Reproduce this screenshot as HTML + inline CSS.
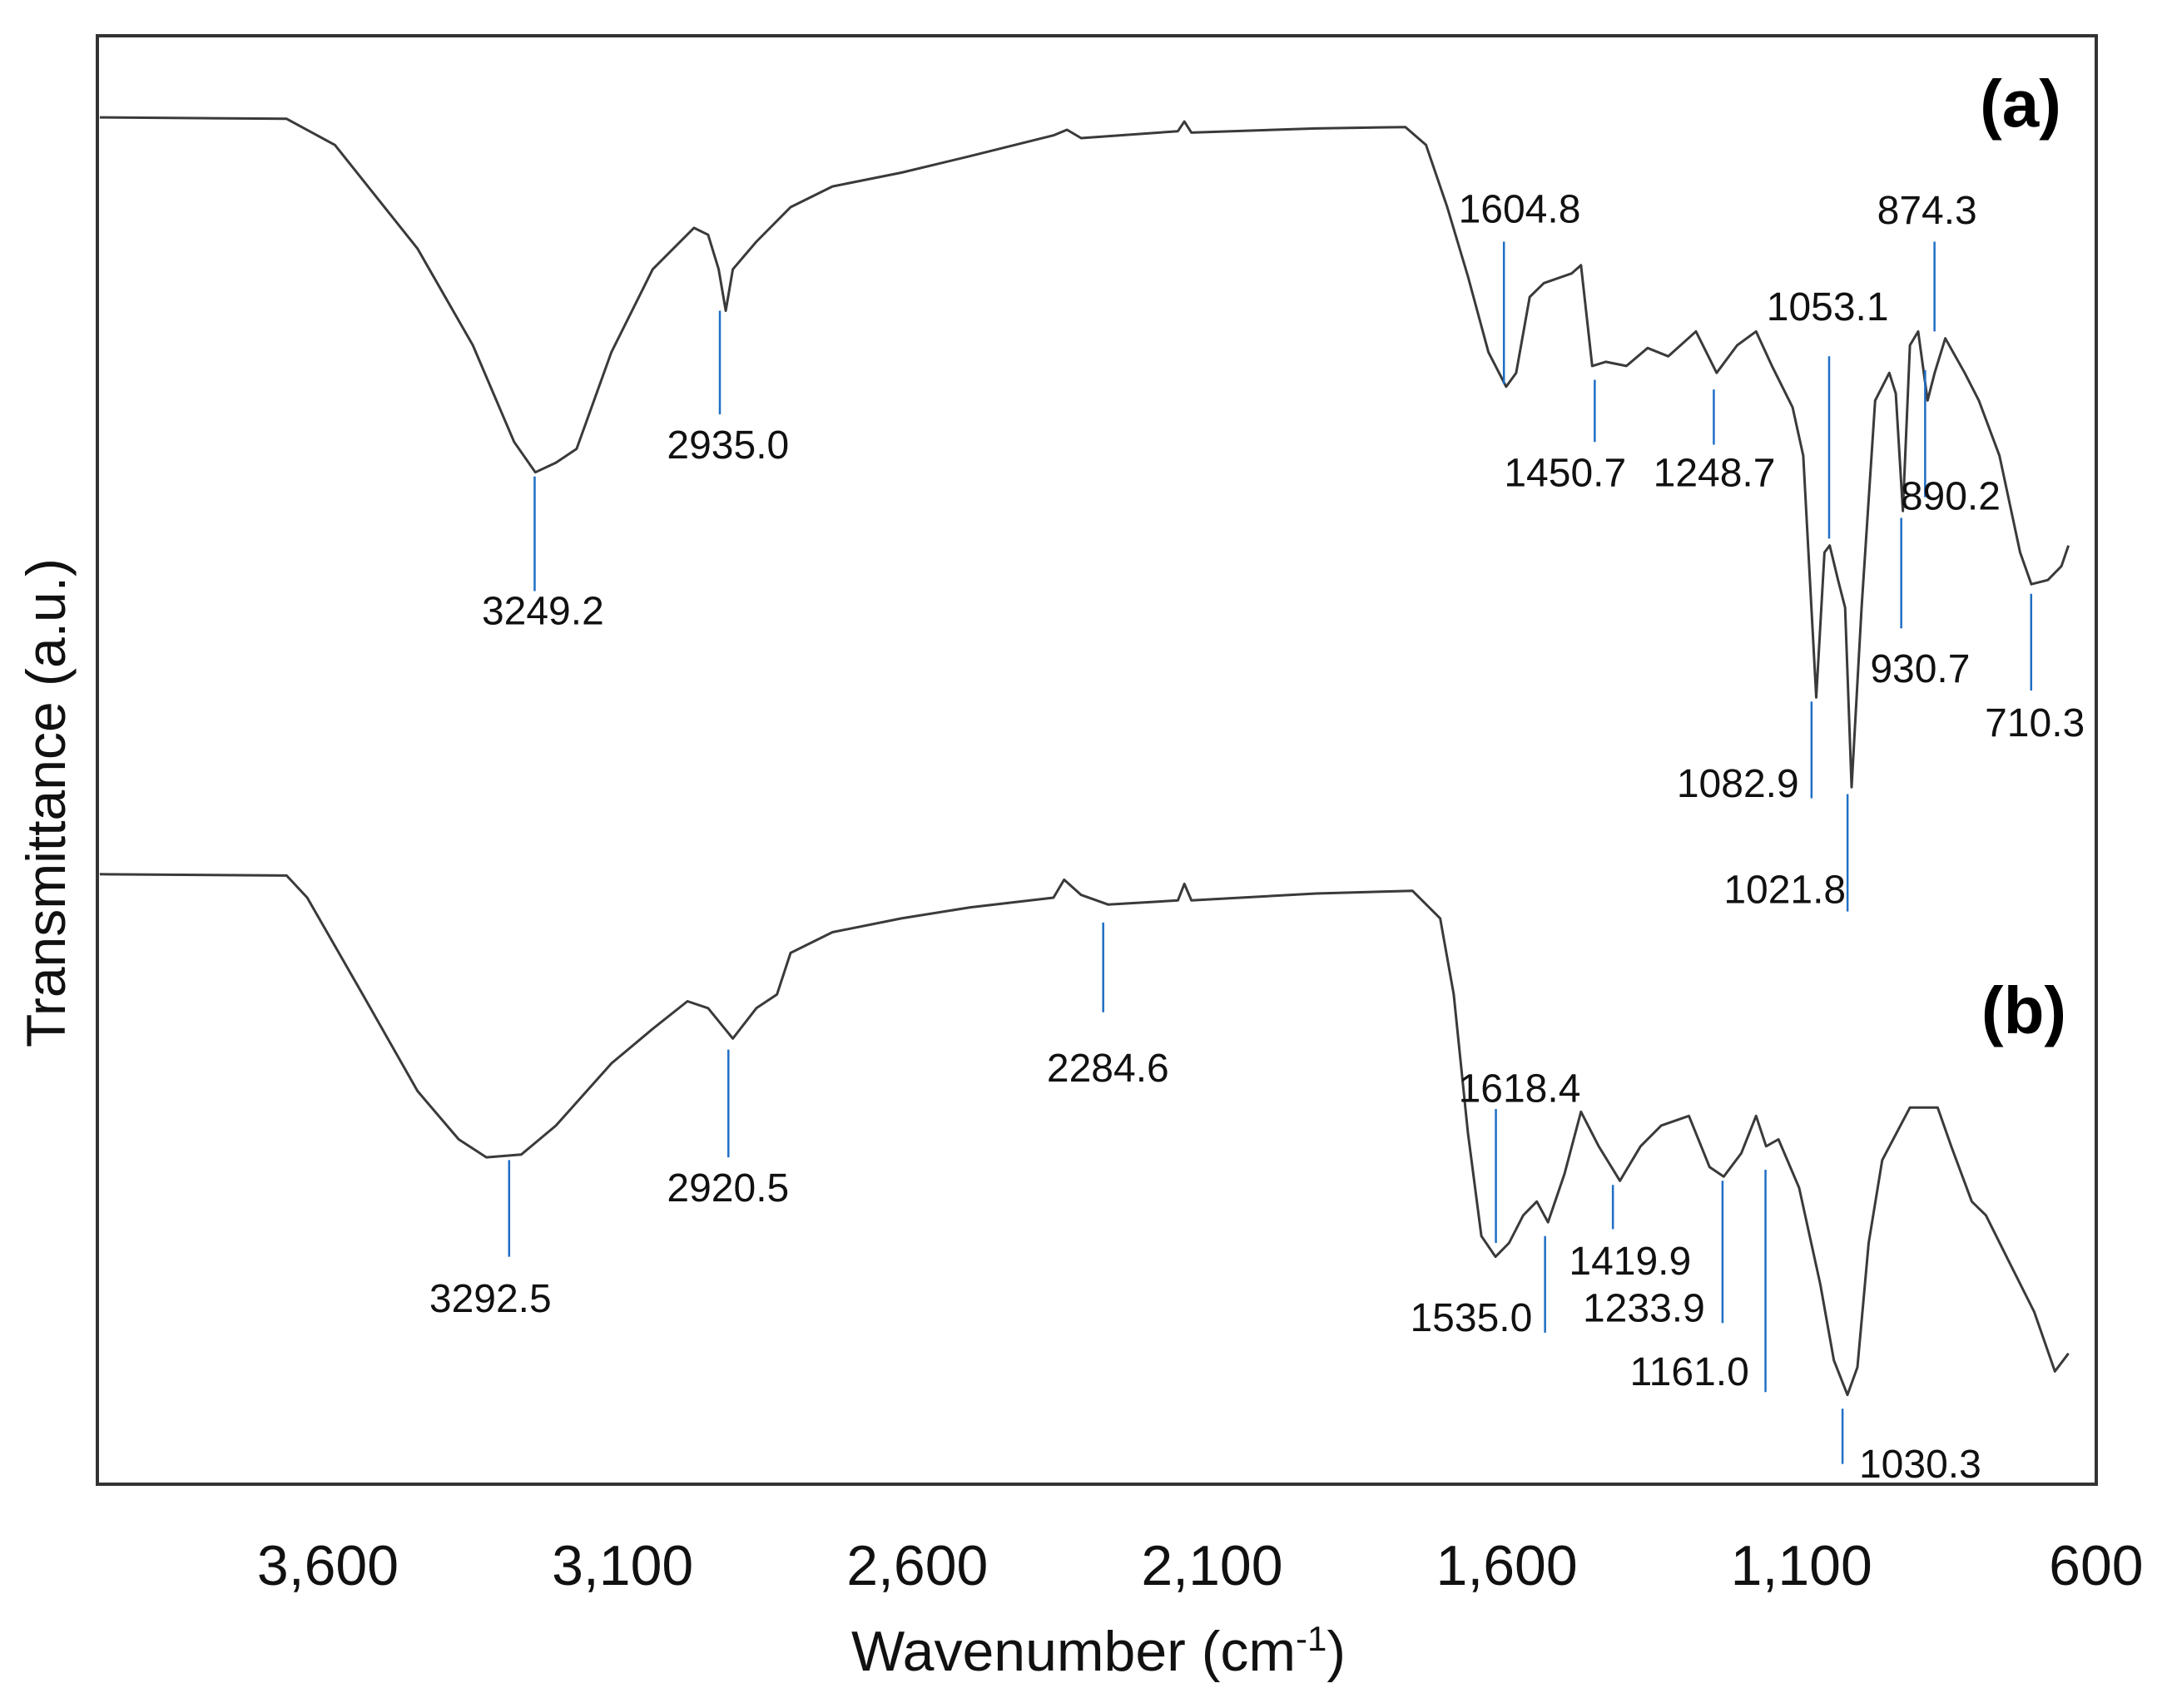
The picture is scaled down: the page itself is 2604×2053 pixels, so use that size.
<!DOCTYPE html>
<html><head><meta charset="utf-8"><style>
html,body{margin:0;padding:0;background:#fff;}
svg{display:block;}
text{font-family:"Liberation Sans",sans-serif;}
</style></head><body>
<svg id="chart" width="2604" height="2053" viewBox="0 0 2604 2053" xmlns="http://www.w3.org/2000/svg">
<rect x="117" y="43" width="2402" height="1741" fill="none" stroke="#333" stroke-width="4"/>
<g id="series"></g>
<g id="annots"></g>
<g id="ticks"></g>
<text x="1320" y="2008" font-size="68" text-anchor="middle" fill="#111">Wavenumber (cm<tspan font-size="42" dy="-24">-1</tspan><tspan dy="24">)</tspan></text>
<text transform="translate(78,965) rotate(-90)" font-size="66" text-anchor="middle" fill="#111">Transmittance (a.u.)</text>
<text x="2428" y="152" font-size="80" font-weight="bold" text-anchor="middle" fill="#000">(a)</text>
<text x="2432" y="1242" font-size="80" font-weight="bold" text-anchor="middle" fill="#000">(b)</text>
</svg>
<script>
const xTicks=[3600,3100,2600,2100,1600,1100,600];
const xTickLabels=["3,600","3,100","2,600","2,100","1,600","1,100","600"];
const wnA=[3987,3670,3588,3448,3354,3284,3248,3213,3178,3119,3049,2979,2955,2937,2925,2913,2873,2815,2744,2627,2510,2369,2346,2322,2158,2147,2135,1924,1772,1737,1701,1666,1631,1601,1584,1561,1537,1490,1474,1455,1432,1397,1361,1326,1279,1244,1209,1177,1150,1115,1097,1075,1061,1052,1038,1026,1015,998,975,951,940,928,916,902,886,874,856,823,799,764,729,710,682,659,647];
const tA=[990,989,970,895,825,755,733,740,750,820,880,910,905,880,850,880,900,925,940,950,962,977,981,975,980,987,979,982,983,970,925,875,820,795,805,860,870,877,883,810,813,810,823,817,835,805,825,835,810,780,745,570,675,680,655,635,505,635,785,805,790,705,825,835,785,805,830,805,785,745,675,652,655,665,680];
const wnB=[3987,3670,3635,3541,3448,3378,3331,3272,3213,3119,3049,2990,2955,2913,2873,2838,2815,2744,2627,2510,2369,2351,2322,2276,2158,2147,2135,1924,1760,1713,1690,1666,1643,1619,1596,1572,1549,1530,1502,1474,1444,1408,1373,1338,1291,1256,1232,1202,1177,1160,1139,1104,1068,1045,1022,1005,986,963,916,869,846,811,787,752,705,670,647];
const tB=[442,441,425,355,285,250,237,239,260,305,330,350,345,323,345,355,385,400,410,418,425,438,427,420,423,435,423,428,430,410,355,255,180,165,175,195,205,190,225,270,245,220,245,260,267,230,223,240,267,245,250,215,145,90,65,85,175,235,273,273,245,205,195,165,125,82,95];
const peaksA=[3249.2,2935.0,1604.8,1450.7,1248.7,1053.1,874.3,890.2,930.7,1082.9,1021.8,710.3];
const peaksB=[3292.5,2920.5,2284.6,1618.4,1535.0,1419.9,1233.9,1161.0,1030.3];
const S=1.66;
function X(w){return 394+(3600-w)*0.7083;}
function Y(v){return (1075-v)*S;}
const NS="http://www.w3.org/2000/svg";
function mk(tag,attrs,parent){const e=document.createElementNS(NS,tag);for(const k in attrs)e.setAttribute(k,attrs[k]);parent.appendChild(e);return e;}
const gS=document.getElementById('series');
function drawSeries(wn,t,name){
  let d='';for(let i=0;i<wn.length;i++){d+=(i?'L':'M')+X(wn[i]).toFixed(1)+' '+Y(t[i]).toFixed(1);}
  const p=mk('path',{d:d,fill:'none',stroke:'#3a3a3a','stroke-width':3,'stroke-linejoin':'round'},gS);
  
  
}
drawSeries(wnA,tA,'spectrum-a');
drawSeries(wnB,tB,'spectrum-b');
const gT=document.getElementById('ticks');
xTicks.forEach((w,i)=>{
  const t=mk('text',{x:X(w),y:1905,'font-size':68,'text-anchor':'middle',fill:'#111'},gT);
  t.textContent=xTickLabels[i];
  
  
});
const layA=[[345,428,393,452],[225,300,527,332],[175,278,1100,161],[275,320,1133,352],[282,322,1241,352],[258,390,1323,232],[175,240,1395,162],[268,360,1412,369],[375,455,1390,494],[508,578,1258,577],[575,660,1292,654],[430,500,1473,533]];
const layB=[[840,910,355,950],[760,838,527,870],[668,733,802,783],[803,900,1100,798],[895,965,1065,964],[858,890,1180,923],[855,958,1190,957],[847,1008,1223,1003],[1020,1060,1390,1070]];
const gA=document.getElementById('annots');
function drawPeaks(peaks,lay,prefix){
  peaks.forEach((w,i)=>{
    const L=lay[i];
    const ln=mk('line',{x1:X(w),x2:X(w),y1:L[0]*S,y2:L[1]*S,stroke:'#1f6fc5','stroke-width':2.5},gA);
    
    
    const tx=mk('text',{x:L[2]*S,y:L[3]*S,'font-size':48,'text-anchor':'middle',fill:'#111'},gA);
    tx.textContent=w.toFixed(1);
    
    
  });
}
drawPeaks(peaksA,layA,'spectrum-a');
drawPeaks(peaksB,layB,'spectrum-b');
</script>
</body></html>
